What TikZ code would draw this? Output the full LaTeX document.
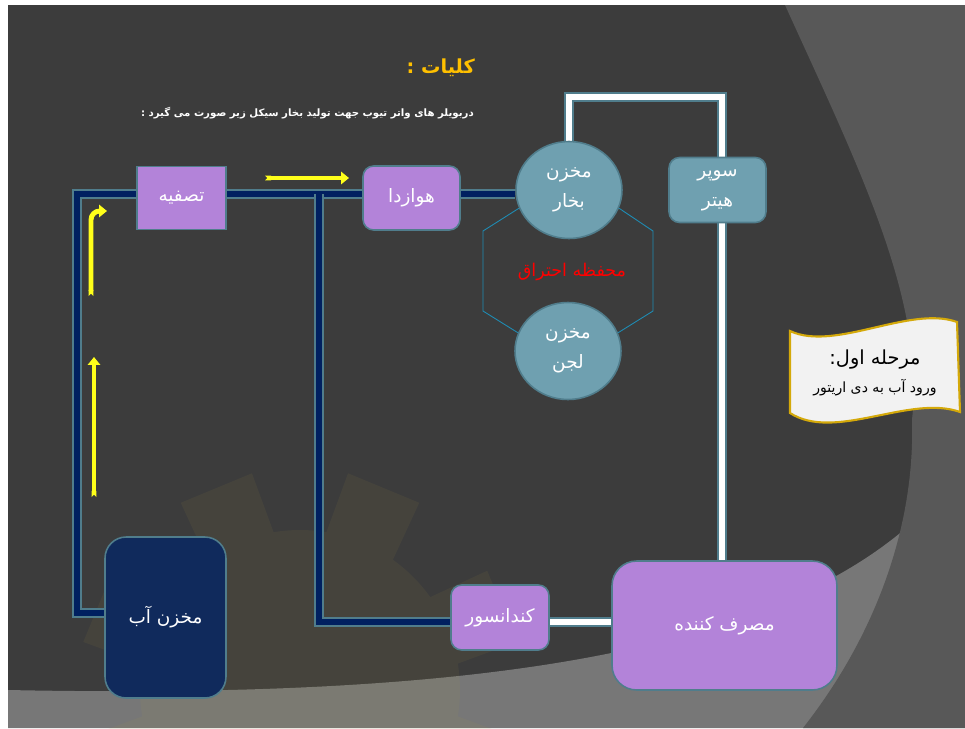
\documentclass[tikz,border=0pt]{standalone}
\usepackage{fontspec}
\newfontfamily\fa[Script=Arabic]{DejaVu Sans}
\TeXXeTstate=1
\usetikzlibrary{shapes.geometric,arrows.meta}
\definecolor{bgdark}{HTML}{3C3C3C}
\definecolor{bgright}{HTML}{585858}
\definecolor{bglight}{HTML}{777777}
\definecolor{gearcol}{HTML}{B0A040}
\definecolor{boxpurple}{HTML}{B383D9}
\definecolor{boxteal}{HTML}{6FA0B0}
\definecolor{boxedge}{HTML}{507D8C}
\definecolor{tanknavy}{HTML}{102A5C}
\definecolor{pipenavy}{HTML}{002060}
\definecolor{arrowyellow}{HTML}{FFFF1A}
\definecolor{titleyellow}{HTML}{FFC000}
\definecolor{hexblue}{HTML}{1F8CB4}
\definecolor{scrollfill}{HTML}{F2F2F2}
\definecolor{scrolledge}{HTML}{D4A90A}
\newcommand\rtl[1]{\beginR #1\endR}
\pgfdeclarelayer{back}
\pgfdeclarelayer{pipes}
\pgfsetlayers{back,pipes,main}
\begin{document}
\begin{tikzpicture}[x=0.02cm,y=-0.02cm,
    box/.style={draw=boxedge,line width=0.9pt,text=white,inner sep=0pt,align=center,
      font=\fa\fontsize{10.5}{17}\selectfont},
    purplebox/.style={box,fill=boxpurple},
    tealbox/.style={box,fill=boxteal},
    tank/.style={tealbox,ellipse,minimum width=2.12cm,minimum height=1.94cm},
    navypipe/.style={draw=boxedge,line width=0.7pt,double=pipenavy,double distance=3.8pt},
    whitepipe/.style={draw=boxedge,line width=0.7pt,double=white,double distance=3.8pt},
    flow/.style={draw=arrowyellow,line width=2.8pt,{Triangle Cap[reversed]}-{Triangle[length=4.5pt,width=7pt]}},
    hexline/.style={draw=hexblue,line width=0.5pt}]
  \useasboundingbox (0,0) rectangle (965,728);

  % slide background
  \begin{pgfonlayer}{back}
    \fill[white] (0,0) rectangle (965,728);
    \fill[bgdark] (8,5) rectangle (965,728);
    \fill[bglight] (8,690) .. controls (500,700) and (830,650) .. (960,470) -- (965,728) -- (8,728) -- cycle;
    \fill[bgright] (785,5) .. controls (860,170) and (925,300) .. (912,420)
      .. controls (915,520) and (880,630) .. (803,728) -- (965,728) -- (965,5) -- cycle;
    \begin{scope}[shift={(300,690)}]
      \fill[gearcol,opacity=0.08] (9.5:160)
        \foreach \a in {22.5,67.5,...,337.5} {
          -- (\a-13:160) -- (\a-10:222) -- (\a+10:222) -- (\a+13:160)
          arc[start angle=\a+13,end angle=\a+32,radius=160] } -- cycle;
    \end{scope}
  \end{pgfonlayer}

  % headings
  \node[font=\fa\bfseries\fontsize{11}{13}\selectfont,text=titleyellow,anchor=east] (title) at (481,68) {\rtl{کلیات :}};
  \node[font=\fa\bfseries\fontsize{5.8}{8}\selectfont,text=white,anchor=east] (intro) at (480,113)
    {\rtl{دربویلر های واتر تیوب جهت تولید بخار سیکل زیر صورت می گیرد :}};

  % units
  \node[purplebox,minimum width=1.78cm,minimum height=1.26cm] (tasfieh) at (181.5,198) {\rtl{تصفیه}};
  \node[purplebox,rounded corners=6pt,minimum width=1.94cm,minimum height=1.28cm] (havazda) at (411.5,198) {\rtl{هوازدا}};
  \node[tank] (bokhar) at (569,190) {\rtl{مخزن}\\\rtl{بخار}};
  \node[tank] (lajan) at (568,351) {\rtl{مخزن}\\\rtl{لجن}};
  \node[tealbox,rounded corners=6pt,minimum width=1.94cm,minimum height=1.3cm] (superheater) at (717.5,190) {\rtl{سوپر}\\\rtl{هیتر}};
  \node[box,fill=tanknavy,rounded corners=12pt,minimum width=2.42cm,minimum height=3.22cm] (makhzanab) at (165.5,617.5) {\rtl{مخزن آب}};
  \node[purplebox,rounded corners=6pt,minimum width=1.96cm,minimum height=1.3cm] (kondansor) at (500,617.5) {\rtl{کندانسور}};
  \node[purplebox,rounded corners=14pt,minimum width=4.5cm,minimum height=2.58cm] (mosref) at (724.5,625.5) {\rtl{مصرف کننده}};

  % combustion chamber
  \draw[hexline] (bokhar.200) -- (483,231) -- (483,311) -- (lajan.160);
  \draw[hexline] (bokhar.-20) -- (653,231) -- (653,311) -- (lajan.20);
  \node[text=red,font=\fa\fontsize{10}{12}\selectfont] (mohafeze) at (572,272) {\rtl{محفظه احتراق}};

  % pipes
  \begin{pgfonlayer}{pipes}
    \coordinate (c1) at (77,194);
    \coordinate (c2) at (77,613);
    \coordinate (c3) at (319,194);
    \coordinate (c4) at (319,622);
    \coordinate (c5) at (569,97);
    \coordinate (c6) at (722,97);
    \draw[navypipe] (tasfieh.west |- c1) -- (c1) -- (c2) -- (makhzanab.west |- c2);
    \draw[navypipe] (tasfieh.east |- c1) -- (havazda.west |- c1);
    \draw[navypipe] (havazda.east |- c1) -- (bokhar.west |- c1);
    \draw[navypipe] (c3) -- (c4) -- (kondansor.west |- c4);
    \draw[whitepipe] (kondansor.east |- c4) -- (mosref.west |- c4);
    \draw[whitepipe] (bokhar.north) -- (c5) -- (c6) -- (superheater.north -| c6);
    \draw[whitepipe] (superheater.south -| c6) -- (mosref.north -| c6);
  \end{pgfonlayer}

  % flow arrows
  \coordinate (f1) at (265,178);
  \coordinate (f2) at (349,178);
  \coordinate (f3) at (91,296);
  \coordinate (f4) at (107,211);
  \coordinate (f5) at (94,497);
  \coordinate (f6) at (94,357);
  \draw[flow] (f1) -- (f2);
  \draw[flow,rounded corners=5pt] (f3) -- (f3 |- f4) -- (f4);
  \draw[flow] (f5) -- (f6);

  % note
  \draw[fill=scrollfill,draw=scrolledge,line width=1.2pt] (790,331) .. controls (835,352) and (910,305) .. (957,322)
    -- (960,412) .. controls (910,394) and (835,442) .. (790,413) -- cycle;
  \node[font=\fa\fontsize{11}{13}\selectfont] (marhale) at (875,360) {\rtl{مرحله اول:}};
  \node[font=\fa\fontsize{8}{10}\selectfont] (vorood) at (875,388) {\rtl{ورود آب به دی اریتور}};

\end{tikzpicture}
\end{document}
